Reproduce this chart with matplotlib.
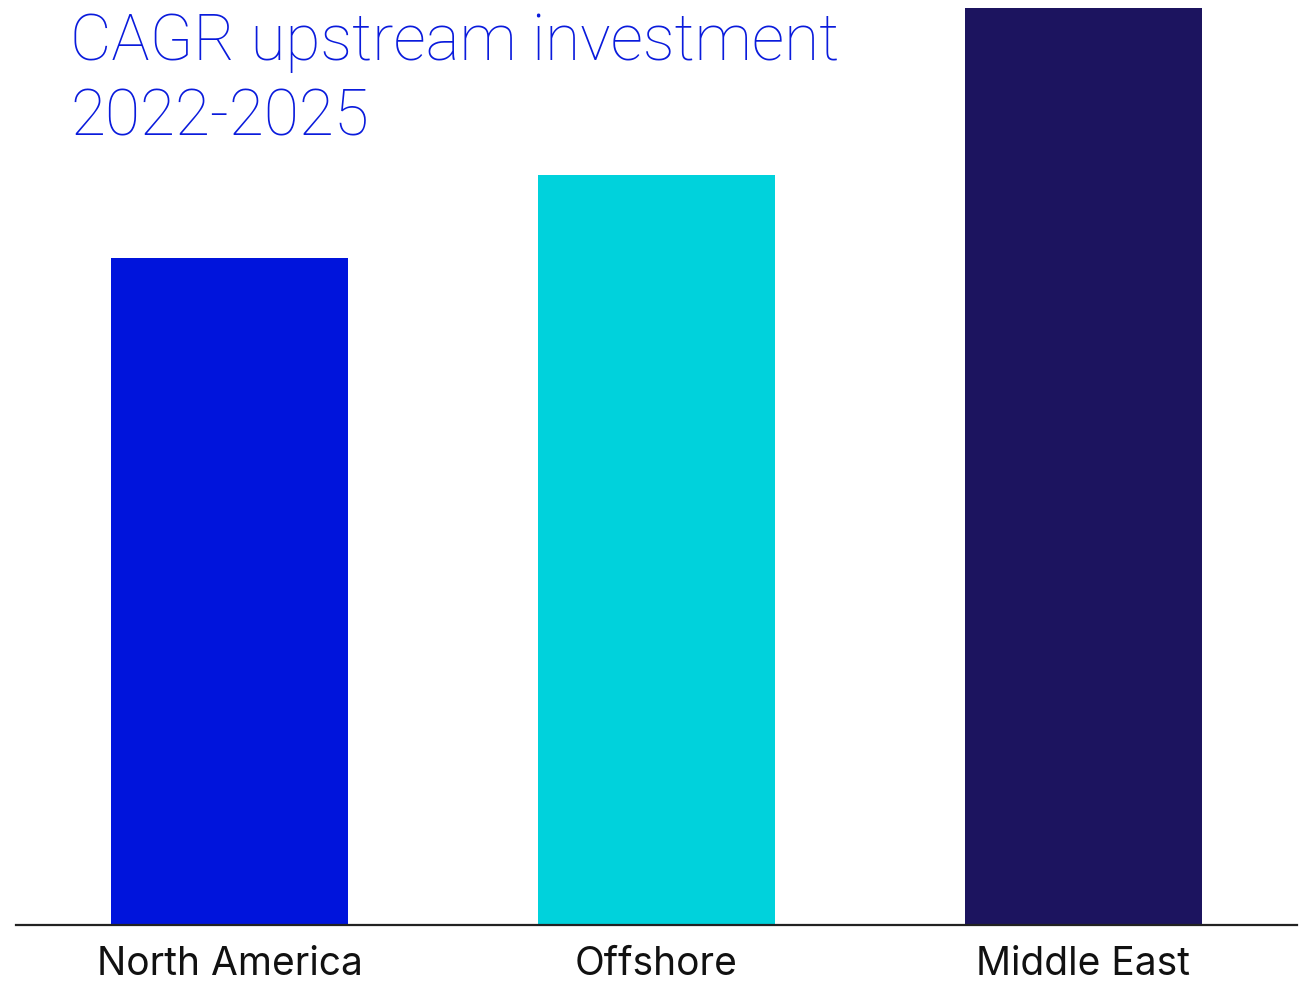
import matplotlib
matplotlib.use("Agg")
import matplotlib.pyplot as plt

regions = ["North America", "Offshore", "Middle East"]
cagr = [8.0, 9.0, 11.0]
bar_colors = ["#0014DC", "#00D2DC", "#1C145F"]

title_lines = ["CAGR upstream investment", "2022-2025"]

#-------------------------------------------------------------------------------

def main():
  W, H = 1309, 983
  fig = plt.figure(figsize=(W/100, H/100), dpi=100)
  ax = fig.add_axes([16/W, (H-925)/H, (1297-16)/W, (925-8)/H])

  x = range(len(regions))
  ax.bar(x, cagr, width=0.556, color=bar_colors)
  ax.set_xlim(-0.5, 2.5)
  ax.set_ylim(0, 11)

  for side in ["top", "right", "left"]:
    ax.spines[side].set_visible(False)
  ax.spines["bottom"].set_linewidth(1.6)
  ax.spines["bottom"].set_color("#222222")
  ax.set_yticks([])
  ax.set_xticks(list(x))
  ax.set_xticklabels(regions, fontsize=28, family="Inter", weight="normal", color="#111111")
  ax.tick_params(axis="x", length=0, pad=15)

  for i, line in enumerate(title_lines):
    fig.text(70/W, 1-(60+75*i)/H, line, fontsize=46, family="Roboto", weight="light",
             color="#0A1BDC", va="baseline", ha="left")

  fig.savefig("out.png", dpi=100)
  plt.close(fig)

if __name__ == "__main__":
  main()
